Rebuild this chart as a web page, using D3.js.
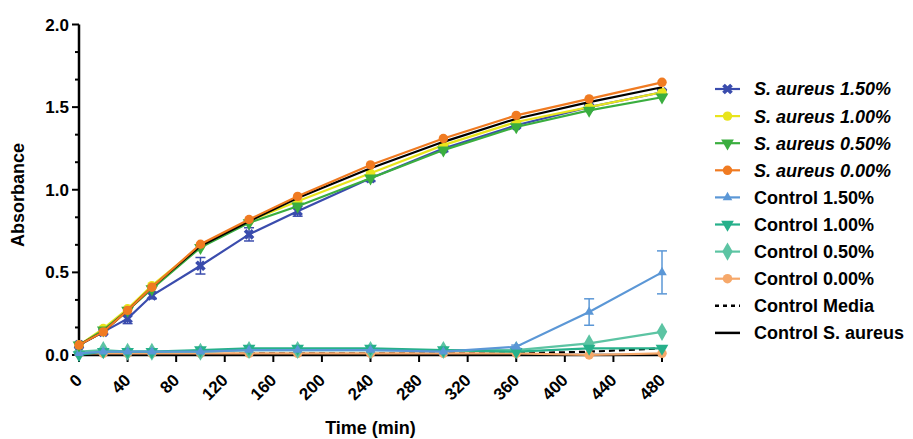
<!DOCTYPE html>
<html>
<head>
<meta charset="utf-8">
<script src="https://cdn.jsdelivr.net/npm/d3@7"></script>
<style>
  html, body { margin: 0; padding: 0; background: #fff; }
  svg { display: block; font-family: "Liberation Sans", Arial, sans-serif; }
</style>
</head>
<body>
<svg id="chart" width="913" height="439"></svg>
<script>
// Sampling times (min)
const times = [0, 20, 40, 60, 100, 140, 180, 240, 300, 360, 420, 480];

// Absorbance per series
const saureus150 = [0.06, 0.14, 0.22, 0.36, 0.54, 0.73, 0.87, 1.07, 1.25, 1.39, 1.50, 1.59];
const saureus150Err = [0.01, 0.01, 0.03, 0.02, 0.05, 0.04, 0.03, 0.02, 0.02, 0.01, 0.01, 0.01];
const saureus100 = [0.06, 0.16, 0.28, 0.42, 0.66, 0.81, 0.93, 1.10, 1.27, 1.41, 1.50, 1.59];
const saureus050 = [0.06, 0.15, 0.27, 0.40, 0.65, 0.80, 0.90, 1.07, 1.24, 1.38, 1.48, 1.56];
const saureus000 = [0.06, 0.14, 0.27, 0.41, 0.67, 0.82, 0.96, 1.15, 1.31, 1.45, 1.55, 1.65];
const control150 = [0.01, 0.02, 0.02, 0.02, 0.02, 0.03, 0.03, 0.03, 0.02, 0.05, 0.26, 0.50];
const control150Err = [0, 0, 0, 0, 0, 0, 0, 0, 0, 0.01, 0.08, 0.13];
const control100 = [0.00, 0.02, 0.02, 0.02, 0.03, 0.04, 0.04, 0.04, 0.03, 0.02, 0.04, 0.04];
const control050 = [0.02, 0.03, 0.02, 0.02, 0.02, 0.03, 0.03, 0.03, 0.03, 0.03, 0.07, 0.14];
const control000 = [0.01, 0.01, 0.01, 0.01, 0.01, 0.01, 0.01, 0.01, 0.01, 0.01, 0.00, 0.01];
const controlMedia = [0.00, 0.00, 0.00, 0.00, 0.00, 0.01, 0.01, 0.01, 0.01, 0.01, 0.02, 0.04];
const controlSaureus = [0.06, 0.14, 0.27, 0.41, 0.66, 0.81, 0.95, 1.13, 1.29, 1.43, 1.53, 1.62];

// Axis ticks
const xTicks = [0, 40, 80, 120, 160, 200, 240, 280, 320, 360, 400, 440, 480];
const yTicks = [0, 0.5, 1.0, 1.5, 2.0];

const svg = d3.select("#chart");
const x = d3.scaleLinear().domain([0, 480]).range([79, 662]);
const y = d3.scaleLinear().domain([0, 2]).range([355, 24.5]);

const series = [
  { name: "S. aureus 1.50%", italic: true, values: saureus150, err: saureus150Err, color: "#3a4cad", shape: "x" },
  { name: "S. aureus 1.00%", italic: true, values: saureus100, color: "#e8e41c", shape: "circle" },
  { name: "S. aureus 0.50%", italic: true, values: saureus050, color: "#3aae3f", shape: "tridown" },
  { name: "S. aureus 0.00%", italic: true, values: saureus000, color: "#f07b22", shape: "circle" },
  { name: "Control 1.50%", values: control150, err: control150Err, color: "#5b97d6", shape: "triup", size: 40 },
  { name: "Control 1.00%", values: control100, color: "#26b08a", shape: "tridown" },
  { name: "Control 0.50%", values: control050, color: "#5cc4a3", shape: "diamond", size: 95 },
  { name: "Control 0.00%", values: control000, color: "#f6a86a", shape: "circle" },
  { name: "Control Media", values: controlMedia, color: "#000", shape: null, dash: "6,4" },
  { name: "Control S. aureus", values: controlSaureus, color: "#000", shape: null }
];

function symbolPath(shape, size) {
  const s = size || 70;
  switch (shape) {
    case "circle": return { d: d3.symbol(d3.symbolCircle, s)(), rot: 0 };
    case "triup": return { d: d3.symbol(d3.symbolTriangle, s)(), rot: 0 };
    case "tridown": return { d: d3.symbol(d3.symbolTriangle, s)(), rot: 180 };
    case "diamond": return { d: d3.symbol(d3.symbolDiamond, s)(), rot: 0 };
    case "x": return { d: d3.symbol(d3.symbolCross, s)(), rot: 45 };
  }
  return null;
}

// Axes
const axisG = svg.append("g");
axisG.append("line").attr("x1", x(0)).attr("x2", x(0)).attr("y1", y(2)).attr("y2", y(0) + 1)
  .attr("stroke", "#000").attr("stroke-width", 2.5);
axisG.append("line").attr("x1", x(0) - 1).attr("x2", x(480)).attr("y1", y(0)).attr("y2", y(0))
  .attr("stroke", "#000").attr("stroke-width", 2.5);

// y ticks (major + minor thirds)
const yMinor = d3.range(0, 2.0001, 0.5 / 3).filter(v => !yTicks.some(t => Math.abs(t - v) < 1e-6));
axisG.selectAll(".ymin").data(yMinor).join("line")
  .attr("x1", x(0) - 4).attr("x2", x(0)).attr("y1", d => y(d)).attr("y2", d => y(d))
  .attr("stroke", "#000").attr("stroke-width", 2);
axisG.selectAll(".ymaj").data(yTicks).join("line")
  .attr("x1", x(0) - 7).attr("x2", x(0)).attr("y1", d => y(d)).attr("y2", d => y(d))
  .attr("stroke", "#000").attr("stroke-width", 2);
axisG.selectAll(".ylab").data(yTicks).join("text")
  .attr("x", x(0) - 10).attr("y", d => y(d)).attr("dy", "0.36em")
  .attr("text-anchor", "end").attr("font-size", 17).attr("font-weight", "bold")
  .text(d => d.toFixed(1));

// x ticks
axisG.selectAll(".xmaj").data(xTicks).join("line")
  .attr("x1", d => x(d)).attr("x2", d => x(d)).attr("y1", y(0)).attr("y2", y(0) + 7)
  .attr("stroke", "#000").attr("stroke-width", 2);
axisG.selectAll(".xlab").data(xTicks).join("text")
  .attr("transform", d => `translate(${x(d)},${y(0) + 22}) rotate(-45)`)
  .attr("text-anchor", "end").attr("dy", "0.35em")
  .attr("font-size", 17).attr("font-weight", "bold")
  .text(d => d);

// Axis titles
svg.append("text").attr("x", (x(0) + x(480)) / 2).attr("y", 434)
  .attr("text-anchor", "middle").attr("font-size", 18).attr("font-weight", "bold")
  .text("Time (min)");
svg.append("text").attr("transform", `translate(24,195) rotate(-90)`)
  .attr("text-anchor", "middle").attr("font-size", 18).attr("font-weight", "bold")
  .text("Absorbance");

// Draw order: controls first, then growth curves on top
const drawOrder = [8, 7, 6, 5, 4, 0, 1, 2, 9, 3];
const line = d3.line().x(d => x(d[0])).y(d => y(d[1]));
const plot = svg.append("g");

drawOrder.forEach(i => {
  const s = series[i];
  const pts = times.map((t, k) => [t, s.values[k]]);
  const g = plot.append("g");
  if (s.err) {
    const eb = g.selectAll(".eb").data(pts.map((p, k) => [p[0], p[1], s.err[k]]).filter(d => d[2] > 0)).join("g");
    eb.append("line").attr("x1", d => x(d[0])).attr("x2", d => x(d[0]))
      .attr("y1", d => y(d[1] - d[2])).attr("y2", d => y(d[1] + d[2]))
      .attr("stroke", s.color).attr("stroke-width", 1.5);
    [1, -1].forEach(sign => {
      eb.append("line").attr("x1", d => x(d[0]) - 5).attr("x2", d => x(d[0]) + 5)
        .attr("y1", d => y(d[1] + sign * d[2])).attr("y2", d => y(d[1] + sign * d[2]))
        .attr("stroke", s.color).attr("stroke-width", 1.5);
    });
  }
  g.append("path").attr("d", line(pts)).attr("fill", "none")
    .attr("stroke", s.color).attr("stroke-width", 2.2)
    .attr("stroke-dasharray", s.dash || null);
  const sym = symbolPath(s.shape, s.size);
  if (sym) {
    g.selectAll(".m").data(pts).join("path")
      .attr("d", sym.d)
      .attr("transform", d => `translate(${x(d[0])},${y(d[1])}) rotate(${sym.rot})`)
      .attr("fill", s.color);
  }
});

// Legend
const legend = svg.append("g");
const legY0 = 89, legStep = 27.1;
series.forEach((s, i) => {
  const ly = legY0 + i * legStep;
  const g = legend.append("g");
  g.append("line").attr("x1", 715).attr("x2", 740).attr("y1", ly).attr("y2", ly)
    .attr("stroke", s.color).attr("stroke-width", s.shape ? 2.2 : 2.5)
    .attr("stroke-dasharray", s.dash ? "4,4" : null);
  const sym = symbolPath(s.shape, s.size);
  if (sym) {
    g.append("path").attr("d", sym.d)
      .attr("transform", `translate(727.5,${ly}) rotate(${sym.rot})`)
      .attr("fill", s.color);
  }
  g.append("text").attr("x", 754).attr("y", ly).attr("dy", "0.36em")
    .attr("font-size", 18).attr("font-weight", "bold")
    .attr("font-style", s.italic ? "italic" : null)
    .text(s.name);
});
</script>
</body>
</html>
